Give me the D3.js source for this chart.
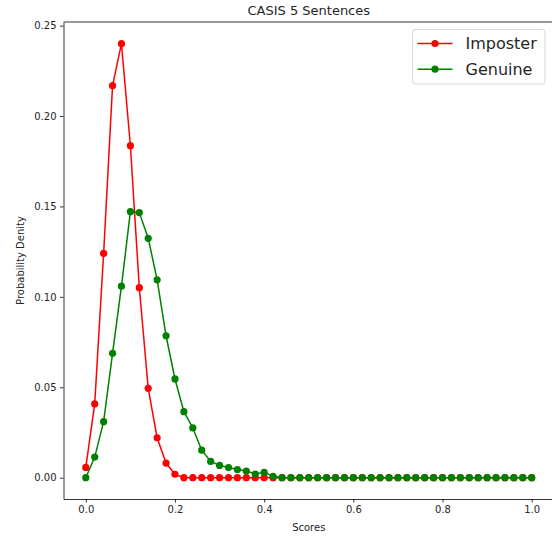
<!DOCTYPE html>
<html>
<head>
<meta charset="utf-8">
<script src="https://cdn.jsdelivr.net/npm/d3@7"></script>
<style>
  body { margin: 0; background: #fff; }
  svg text { font-family: "DejaVu Sans", sans-serif; }
</style>
</head>
<body>
<div id="chart"></div>
<script>
// scores 0.00 .. 1.00, step 0.02
const scores = [0.00,0.02,0.04,0.06,0.08,0.10,0.12,0.14,0.16,0.18,0.20,0.22,0.24,0.26,0.28,0.30,
  0.32,0.34,0.36,0.38,0.40,0.42,0.44,0.46,0.48,0.50,0.52,0.54,0.56,0.58,0.60,0.62,0.64,0.66,
  0.68,0.70,0.72,0.74,0.76,0.78,0.80,0.82,0.84,0.86,0.88,0.90,0.92,0.94,0.96,0.98,1.00];

const imposter = [0.0057,0.0408,0.1240,0.2168,0.2400,0.1836,0.1051,0.0494,0.0221,0.0081,0.0019,
  0,0,0,0,0,0,0,0,0,0,0,0,0,0,0,0,0,0,0,0,0,0,0,0,0,0,0,0,0,0,0,0,0,0,0,0,0,0,0,0];

const genuine = [0.0000,0.0114,0.0310,0.0688,0.1059,0.1471,0.1466,0.1324,0.1094,0.0785,0.0546,
  0.0365,0.0275,0.0152,0.0090,0.0068,0.0056,0.0045,0.0037,0.0020,0.0030,0.0008,
  0,0,0,0,0,0,0,0,0,0,0,0,0,0,0,0,0,0,0,0,0,0,0,0,0,0,0,0,0];

const xTicks = [0.0, 0.2, 0.4, 0.6, 0.8, 1.0];
const yTicks = [0.00, 0.05, 0.10, 0.15, 0.20, 0.25];

const width = 552, height = 536;
const mLeft = 63.5, mRight = 554, mTop = 22, mBottom = 499;

const svg = d3.select("#chart").append("svg")
  .attr("width", width)
  .attr("height", height);

const x = d3.scaleLinear().domain([-0.05, 1.05]).range([mLeft, mRight]);
const y = d3.scaleLinear().domain([-0.01178, 0.252]).range([mBottom, mTop]);

// axes
const xAxis = svg.append("g")
  .attr("transform", `translate(0, ${mBottom})`)
  .call(d3.axisBottom(x).tickValues(xTicks).tickFormat(d3.format(".1f"))
    .tickSizeInner(3.5).tickSizeOuter(0).tickPadding(3.5));
xAxis.select(".domain").attr("stroke", "#000").attr("stroke-width", 0.8);
xAxis.selectAll(".tick line").attr("stroke", "#000").attr("stroke-width", 0.8);
xAxis.selectAll("text").style("font-size", "10px").attr("fill", "#262626");

const yAxis = svg.append("g")
  .attr("transform", `translate(${mLeft}, 0)`)
  .call(d3.axisLeft(y).tickValues(yTicks).tickFormat(d3.format(".2f"))
    .tickSizeInner(3.5).tickSizeOuter(0).tickPadding(3.5));
yAxis.select(".domain").attr("stroke", "#000").attr("stroke-width", 0.8);
yAxis.selectAll(".tick line").attr("stroke", "#000").attr("stroke-width", 0.8);
yAxis.selectAll("text").style("font-size", "10px").attr("fill", "#262626");

// top & right spines
svg.append("line").attr("x1", mLeft).attr("x2", mRight).attr("y1", mTop).attr("y2", mTop)
  .attr("stroke", "#000").attr("stroke-width", 0.8);
svg.append("line").attr("x1", mRight).attr("x2", mRight).attr("y1", mTop).attr("y2", mBottom)
  .attr("stroke", "#000").attr("stroke-width", 0.8);

// series
const series = [
  {name: "Imposter", values: imposter, color: "#ff0000"},
  {name: "Genuine", values: genuine, color: "#008000"}
];

const line = d3.line().x(d => x(d[0])).y(d => y(d[1]));

series.forEach(s => {
  const pts = scores.map((sc, i) => [sc, s.values[i]]);
  svg.append("path")
    .datum(pts)
    .attr("d", line)
    .attr("fill", "none")
    .attr("stroke", s.color)
    .attr("stroke-width", 1.5);
  svg.append("g").selectAll("circle")
    .data(pts)
    .join("circle")
      .attr("cx", d => x(d[0]))
      .attr("cy", d => y(d[1]))
      .attr("r", 3.6)
      .attr("fill", s.color);
});

// title and labels
svg.append("text")
  .attr("x", (mLeft + mRight) / 2)
  .attr("y", 15)
  .attr("text-anchor", "middle")
  .style("font-size", "13px")
  .attr("fill", "#262626")
  .text("CASIS 5 Sentences");

svg.append("text")
  .attr("x", (mLeft + mRight) / 2)
  .attr("y", 531)
  .attr("text-anchor", "middle")
  .style("font-size", "10px")
  .attr("fill", "#262626")
  .text("Scores");

svg.append("text")
  .attr("transform", `translate(24, ${(mTop + mBottom) / 2}) rotate(-90)`)
  .attr("text-anchor", "middle")
  .style("font-size", "10px")
  .attr("fill", "#262626")
  .text("Probability Denity");

// legend
const legend = svg.append("g");
legend.append("rect")
  .attr("x", 412.5).attr("y", 29.5)
  .attr("width", 132.5).attr("height", 54.5)
  .attr("rx", 3)
  .attr("fill", "#fff").attr("fill-opacity", 0.8)
  .attr("stroke", "#d6d6d6").attr("stroke-width", 1);

series.forEach((s, i) => {
  const ly = 43.5 + i * 25.7;
  legend.append("line")
    .attr("x1", 417.5).attr("x2", 452.5)
    .attr("y1", ly).attr("y2", ly)
    .attr("stroke", s.color).attr("stroke-width", 1.5);
  legend.append("circle")
    .attr("cx", 435).attr("cy", ly).attr("r", 3.6)
    .attr("fill", s.color);
  legend.append("text")
    .attr("x", 465.5).attr("y", ly + 5.8)
    .style("font-size", "16px")
    .attr("fill", "#262626")
    .text(s.name);
});
</script>
</body>
</html>
